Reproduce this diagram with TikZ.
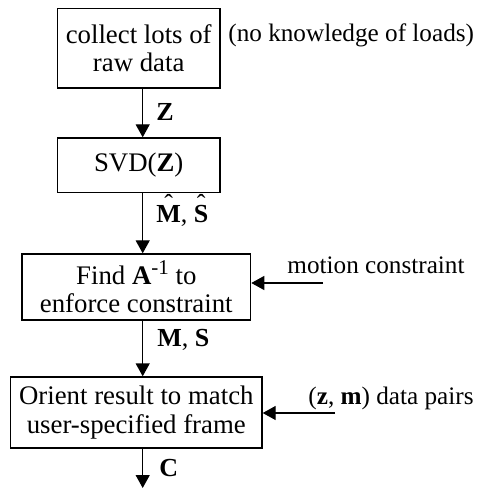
\documentclass[tikz,border=0pt]{standalone}
\usepackage{fontspec}
\setmainfont{Liberation Serif}
\usepackage{tikz}
\usetikzlibrary{arrows.meta, positioning, calc}
\newcommand{\hatbf}[1]{\ooalign{\textbf{#1}\cr\hidewidth\raisebox{0.38em}{ˆ}\hidewidth\cr}}

\begin{document}
\begin{tikzpicture}[x=0.5pt, y=-0.5pt,
    >={Triangle[width=7pt, length=6.5pt]},
    font=\fontsize{12.6}{14.5}\selectfont,
    box/.style={draw, line width=0.7pt, align=center, inner sep=0pt,
      font=\fontsize{13.4}{14.4}\selectfont},
    flow/.style={->, line width=0.7pt},
    tag/.style={anchor=west, inner sep=0pt, font=\fontsize{13}{14}\selectfont}]
  \useasboundingbox (0, 0) rectangle (480, 491);

  % Process boxes
  \node[box, minimum width=81.3pt, minimum height=39.8pt] (raw) at (138.7, 48.2)
    {collect lots of\\raw data};
  \node[box, minimum width=81.3pt, minimum height=27.3pt] (svd) at (138.7, 165.3)
    {SVD(\textbf{Z})};
  \node[box, minimum width=114.3pt, minimum height=33pt] (finda) at (136.3, 287)
    {Find \textbf{A}\raisebox{0.75ex}{\fontsize{10.5}{10}\selectfont -1} to\\enforce constraint};
  \node[box, minimum width=125.7pt, minimum height=35.5pt] (orient) at (136.3, 412.5)
    {Orient result to match\\user-specified frame};

  % Main flow down the middle
  \coordinate (spine) at (142.7, 0);
  \coordinate (out) at (142.7, 488);
  \draw[flow] (raw.south -| spine) -- (svd.north -| spine);
  \draw[flow] (svd.south -| spine) -- (finda.north -| spine);
  \draw[flow] (finda.south -| spine) -- (orient.north -| spine);
  \draw[flow] (orient.south -| spine) -- (out);

  % Labels on the flow
  \node[tag] (zlab) at (156, 112) {\textbf{Z}};
  \node[tag] (mshat) at (156, 216) {\hatbf{M}, \hatbf{S}};
  \node[tag] (mslab) at (157, 340) {\textbf{M}, \textbf{S}};
  \node[tag] (clab) at (159, 468) {\textbf{C}};

  % Side inputs
  \node[anchor=west, inner sep=0pt] (noload) at (228, 35) {(no knowledge of loads)};
  \node[inner sep=0pt] (motion) at (376, 265) {motion constraint};
  \coordinate (min) at (323, 283);
  \draw[flow] (min) -- (min -| finda.east);
  \node[inner sep=0pt] (pairs) at (391, 398) {(\textbf{z}, \textbf{m}) data pairs};
  \coordinate (pin) at (335, 413);
  \draw[flow] (pin) -- (pin -| orient.east);
\end{tikzpicture}
\end{document}
